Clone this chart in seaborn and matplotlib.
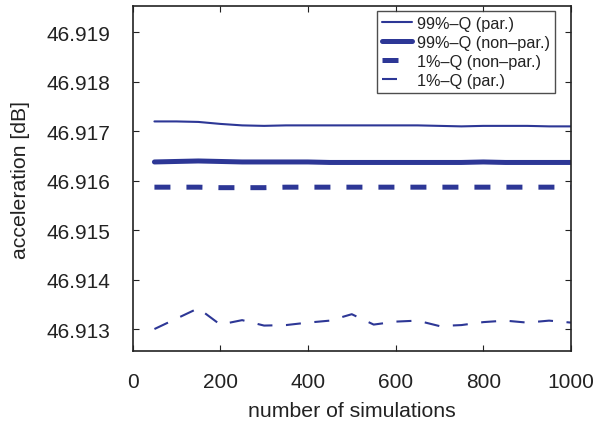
import matplotlib
matplotlib.use("Agg")
import matplotlib.pyplot as plt
import seaborn as sns
import numpy as np
import pandas as pd
from matplotlib.ticker import FormatStrFormatter

sims = [50, 100, 150, 200, 250, 300, 350, 400, 450, 500,
        550, 600, 650, 700, 750, 800, 850, 900, 950, 1000]

q99_par = [46.91720, 46.91720, 46.91719, 46.91715, 46.91712, 46.91711, 46.91712, 46.91712, 46.91712, 46.91712,
           46.91712, 46.91712, 46.91712, 46.91711, 46.91710, 46.91711, 46.91711, 46.91711, 46.91710, 46.91710]
q99_nonpar = [46.91638, 46.91639, 46.91640, 46.91639, 46.91638, 46.91638, 46.91638, 46.91638, 46.91637, 46.91637,
              46.91637, 46.91637, 46.91637, 46.91637, 46.91637, 46.91638, 46.91637, 46.91637, 46.91637, 46.91637]
q1_nonpar = [46.91587, 46.91587, 46.91587, 46.91586, 46.91586, 46.91586, 46.91587, 46.91587, 46.91587, 46.91587,
             46.91587, 46.91587, 46.91587, 46.91587, 46.91587, 46.91587, 46.91587, 46.91587, 46.91587, 46.91587]
q1_par = [46.91300, 46.91321, 46.91342, 46.91309, 46.91318, 46.91307, 46.91308, 46.91313, 46.91317, 46.91330,
          46.91309, 46.91315, 46.91317, 46.91306, 46.91308, 46.91314, 46.91317, 46.91313, 46.91317, 46.91313]

labels = ["99%\u2013Q (par.)", "99%\u2013Q (non\u2013par.)", "1%\u2013Q (non\u2013par.)", "1%\u2013Q (par.)"]

sns.set_theme(style="white")
plt.rcParams['font.family'] = ['Liberation Sans', 'DejaVu Sans']

color = '#2d3796'
fig = plt.figure(figsize=(5.95, 4.27), dpi=100)
ax = fig.add_axes([0.2227, 0.175, 0.9597 - 0.2227, 0.983 - 0.175])

series = [q99_par, q99_nonpar, q1_nonpar, q1_par]
styles = [
    dict(linewidth=1.5, linestyle='-'),
    dict(linewidth=3.6, linestyle='-'),
    dict(linewidth=3.6, linestyle=(0, (3.2, 3.2))),
    dict(linewidth=1.5, linestyle=(0, (7.2, 6.5))),
]
for vals, lab, st in zip(series, labels, styles):
    sns.lineplot(x=sims, y=vals, ax=ax, color=color, label=lab, **st)

ax.set_xlim(0, 1000)
ax.set_ylim(46.91255, 46.91953)
ax.set_xticks([0, 200, 400, 600, 800, 1000])
ax.set_yticks([46.913, 46.914, 46.915, 46.916, 46.917, 46.918, 46.919])
ax.yaxis.set_major_formatter(FormatStrFormatter('%.3f'))
ax.tick_params(axis='both', which='both', direction='in', top=True, right=True,
               bottom=True, left=True,
               length=4, width=0.8, labelsize=15, colors='#222222')
ax.tick_params(axis='y', pad=16)
ax.tick_params(axis='x', pad=15)
for s in ax.spines.values():
    s.set_color('#222222')
    s.set_linewidth(1.2)

ax.set_xlabel('number of simulations', fontsize=15.3, color='#222222', labelpad=7)
ax.set_ylabel('acceleration [dB]', fontsize=15.3, color='#222222', labelpad=12)

leg = ax.legend(loc='upper right', bbox_to_anchor=(0.9635, 0.986), borderaxespad=0,
                fontsize=11.7, frameon=True, fancybox=False,
                handlelength=1.85, handletextpad=0.3, borderpad=0.3, labelspacing=0.25)
leg.get_frame().set_edgecolor('#222222')
leg.get_frame().set_linewidth(1.0)
for t in leg.get_texts():
    t.set_color('#222222')
lines = leg.get_lines()
lines[2].set_linestyle((0, (3.2, 20)))
lines[3].set_linestyle((0, (7.2, 20)))

fig.savefig('out.png', dpi=100)
